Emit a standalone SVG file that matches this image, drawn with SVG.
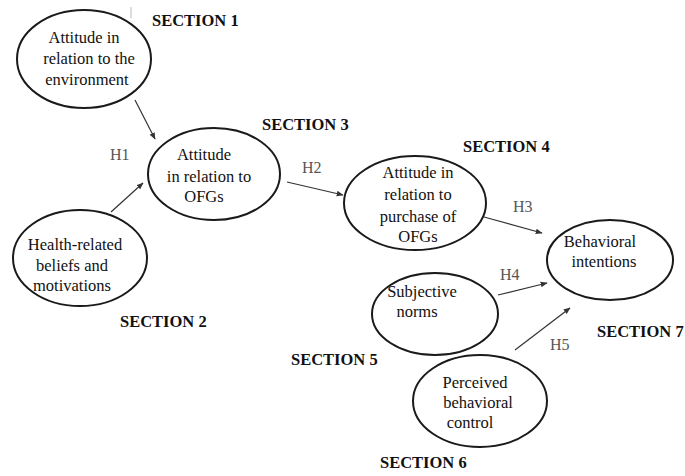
<svg xmlns="http://www.w3.org/2000/svg" width="685" height="476" viewBox="0 0 685 476">
<defs>
<marker id="ah" viewBox="0 0 10 10" refX="9" refY="5" markerWidth="7" markerHeight="7" orient="auto" markerUnits="userSpaceOnUse">
<path d="M0,1 L10,5 L0,9 Z" fill="#333"/>
</marker>
</defs>
<style>
.node ellipse{fill:#fff;stroke:#1a1a1a;stroke-width:2}
.node text{font-family:"Liberation Serif","Times New Roman",serif;font-size:16.5px;fill:#111;text-anchor:middle}
.sec{font-family:"Liberation Serif","Times New Roman",serif;font-size:16.5px;font-weight:bold;fill:#111}
.h{font-family:"Liberation Serif","Times New Roman",serif;font-size:16px;fill:#555}
#connectors line{stroke:#333;stroke-width:1.2;marker-end:url(#ah)}
</style>
<rect width="685" height="476" fill="#fff"/>
<line x1="131" y1="7" x2="131" y2="18" stroke="#bbb" stroke-width="1"/>
<g id="connectors">
<line x1="135" y1="100" x2="155" y2="139"/>
<line x1="111" y1="212" x2="143" y2="183"/>
<line x1="287" y1="182" x2="343" y2="195"/>
<line x1="484" y1="217" x2="542" y2="233"/>
<line x1="498" y1="295" x2="547" y2="283"/>
<line x1="515" y1="350" x2="570" y2="308"/>
</g>
<g id="labels">
<text class="h" x="110" y="160">H1</text>
<text class="h" x="302" y="173">H2</text>
<text class="h" x="513" y="212">H3</text>
<text class="h" x="500" y="280">H4</text>
<text class="h" x="550" y="350">H5</text>
<text class="sec" x="152" y="26">SECTION 1</text>
<text class="sec" x="120" y="327">SECTION 2</text>
<text class="sec" x="262" y="130">SECTION 3</text>
<text class="sec" x="463" y="152">SECTION 4</text>
<text class="sec" x="291" y="365">SECTION 5</text>
<text class="sec" x="380" y="468">SECTION 6</text>
<text class="sec" x="597" y="337">SECTION 7</text>
</g>
<g id="n-environment" class="node">
<ellipse cx="84" cy="59" rx="67" ry="49"/>
<text x="84" y="43">Attitude in</text>
<text x="89" y="64">relation to the</text>
<text x="87" y="85">environment</text>
</g>
<g id="n-ofgs" class="node">
<ellipse cx="214" cy="174" rx="66" ry="46"/>
<text x="204" y="160">Attitude</text>
<text x="209" y="182">in relation to</text>
<text x="204" y="202">OFGs</text>
</g>
<g id="n-health" class="node">
<ellipse cx="80" cy="258" rx="67" ry="48"/>
<text x="75" y="250">Health-related</text>
<text x="72" y="271">beliefs and</text>
<text x="72" y="291">motivations</text>
</g>
<g id="n-purchase" class="node">
<ellipse cx="415" cy="203" rx="71" ry="47"/>
<text x="418" y="178">Attitude in</text>
<text x="418" y="200">relation to</text>
<text x="418" y="222">purchase of</text>
<text x="418" y="242">OFGs</text>
</g>
<g id="n-intentions" class="node">
<ellipse cx="610" cy="260" rx="63" ry="40"/>
<text x="600" y="247">Behavioral</text>
<text x="604" y="267">intentions</text>
</g>
<g id="n-norms" class="node">
<ellipse cx="435" cy="314" rx="63" ry="41"/>
<text x="422" y="297">Subjective</text>
<text x="417" y="317">norms</text>
</g>
<g id="n-control" class="node">
<ellipse cx="480" cy="401" rx="67" ry="46"/>
<text x="475" y="388">Perceived</text>
<text x="478" y="408">behavioral</text>
<text x="470" y="428">control</text>
</g>
</svg>
